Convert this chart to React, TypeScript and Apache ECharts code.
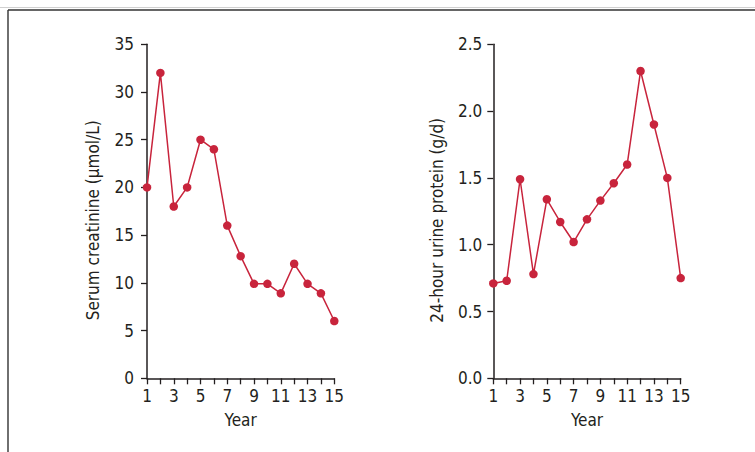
import React, { useEffect, useRef } from "react";
import * as echarts from "echarts";

const years = [1, 2, 3, 4, 5, 6, 7, 8, 9, 10, 11, 12, 13, 14, 15];
const creatinine = [20, 32, 18, 20, 25, 24, 16, 12.8, 9.9, 9.9, 8.9, 12, 9.9, 8.9, 6];
const protein = [0.71, 0.73, 1.49, 0.78, 1.34, 1.17, 1.02, 1.19, 1.33, 1.46, 1.6, 2.3, 1.9, 1.5, 0.75];

const FONT = "'Liberation Sans Narrow', 'DejaVu Sans Condensed', sans-serif";
const INK = "#231f20";
const RED = "#c8243c";

export default function App() {
  const ref = useRef<HTMLDivElement>(null);
  useEffect(() => {
    if (!ref.current) return;
    const chart = echarts.init(ref.current, null, { renderer: "svg" });
    const axisCommon = {
      axisLine: { show: true, onZero: false, lineStyle: { color: INK, width: 1.5 } },
      axisTick: { show: true, inside: false, length: 6, lineStyle: { color: INK, width: 1.3 } },
      splitLine: { show: false },
      nameTextStyle: { color: INK, fontFamily: FONT, fontSize: 17 },
    };
    const yName = { color: INK, fontFamily: FONT, fontSize: 17, padding: [0, 18, 0, 0] };
    const xAxis = (gi: number) => ({
      ...axisCommon,
      type: "value",
      gridIndex: gi,
      min: 1,
      max: 15,
      interval: 1,
      name: "Year",
      nameLocation: "middle",
      nameGap: 33,
      axisLabel: {
        color: INK,
        fontFamily: FONT,
        fontSize: 17,
        margin: 9,
        showMinLabel: true,
        showMaxLabel: true,
        formatter: (v: number) => (v % 2 === 1 ? String(v) : ""),
      },
    });
    chart.setOption({
      animation: false,
      backgroundColor: "#ffffff",
      grid: [
        { left: 147, top: 44.3, width: 187.3, height: 334, containLabel: false },
        { left: 493.3, top: 44.3, width: 187.4, height: 334, containLabel: false },
      ],
      xAxis: [xAxis(0), xAxis(1)],
      yAxis: [
        {
          ...axisCommon,
          type: "value",
          gridIndex: 0,
          min: 0,
          max: 35,
          interval: 5,
          name: "Serum creatinine (μmol/L)",
          nameLocation: "middle",
          nameGap: 46,
          nameTextStyle: yName,
          axisLabel: { color: INK, fontFamily: FONT, fontSize: 17, margin: 13 },
        },
        {
          ...axisCommon,
          type: "value",
          gridIndex: 1,
          min: 0,
          max: 2.5,
          interval: 0.5,
          name: "24-hour urine protein (g/d)",
          nameLocation: "middle",
          nameGap: 48,
          nameTextStyle: yName,
          axisLabel: {
            color: INK,
            fontFamily: FONT,
            fontSize: 17,
            margin: 11,
            formatter: (v: number) => v.toFixed(1),
          },
        },
      ],
      series: [
        {
          type: "line",
          xAxisIndex: 0,
          yAxisIndex: 0,
          data: years.map((y, i) => [y, creatinine[i]]),
          symbol: "circle",
          symbolSize: 8.5,
          lineStyle: { color: RED, width: 1.5 },
          itemStyle: { color: RED },
        },
        {
          type: "line",
          xAxisIndex: 1,
          yAxisIndex: 1,
          data: years.map((y, i) => [y, protein[i]]),
          symbol: "circle",
          symbolSize: 8.5,
          lineStyle: { color: RED, width: 1.5 },
          itemStyle: { color: RED },
        },
      ],
      graphic: [
        { type: "line", shape: { x1: 0, y1: 7.5, x2: 755, y2: 7.5 }, style: { stroke: "#d0d0d0", lineWidth: 1 } },
        { type: "line", shape: { x1: 8, y1: 10, x2: 755, y2: 10 }, style: { stroke: "#333333", lineWidth: 1.4 } },
        { type: "line", shape: { x1: 8, y1: 10, x2: 8, y2: 452 }, style: { stroke: "#333333", lineWidth: 1.4 } },
      ],
    });
    return () => chart.dispose();
  }, []);
  return (
    <div
      ref={ref}
      style={{ position: "fixed", left: 0, top: 0, width: 755, height: 452 }}
    />
  );
}
